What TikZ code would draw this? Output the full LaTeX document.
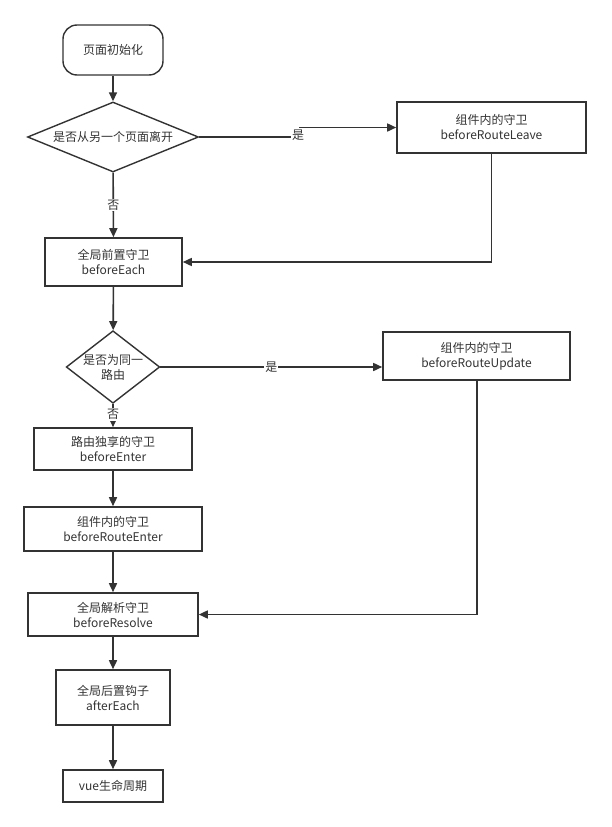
\documentclass[tikz,border=0pt]{standalone}
\usepackage{fontspec}
\setmainfont{Noto Sans CJK SC}
\usetikzlibrary{arrows.meta,shapes.geometric}
\definecolor{ink}{HTML}{333333}
\definecolor{txt}{HTML}{333333}
\begin{document}
\begin{tikzpicture}[x=1pt,y=-1pt,
  every node/.style={font=\fontsize{12}{15}\selectfont, text=txt, align=center, inner sep=0pt},
  box/.style={draw=ink, line width=1.6pt, rectangle, minimum width=#1},
  lbl/.style={fill=white, inner sep=1pt},
  conn/.style={draw=ink, line width=1.6pt, -{Triangle[length=9pt,width=8pt]}},
  plain/.style={draw=ink, line width=1.6pt}]
\useasboundingbox (0,0) rectangle (611,827);
% nodes
\node[draw=ink, line width=1.4pt, rounded corners=14pt, minimum width=100pt, minimum height=50pt] (start) at (113,50) {页面初始化};
\node[draw=ink, line width=1.4pt, shape=diamond, minimum width=171pt, minimum height=70pt, aspect=2.44] (d1) at (113,137) {是否从另一个页面离开};
\node[box=189pt, minimum height=51pt] (leave) at (491.5,127.5) {组件内的守卫\\beforeRouteLeave};
\node[box=137pt, minimum height=48pt] (each) at (113.5,262) {全局前置守卫\\beforeEach};
\node[draw=ink, line width=1.4pt, shape=diamond, minimum width=90pt, minimum height=70pt, aspect=1.29] (d2) at (113,367) {是否为同一\\路由};
\node[box=187pt, minimum height=48pt] (update) at (476.5,356) {组件内的守卫\\beforeRouteUpdate};
\node[box=158pt, minimum height=42pt] (enter) at (113,449) {路由独享的守卫\\beforeEnter};
\node[box=178pt, minimum height=44pt] (renter) at (113,529) {组件内的守卫\\beforeRouteEnter};
\node[box=170pt, minimum height=43pt] (resolve) at (113,614.5) {全局解析守卫\\beforeResolve};
\node[box=114pt, minimum height=55pt] (after) at (113,697.5) {全局后置钩子\\afterEach};
\node[box=100pt, minimum height=32pt] (vue) at (113,786) {vue生命周期};
% helper coordinates
\coordinate (j1) at (299,137);
\coordinate (j2) at (299,127.5);
\coordinate (c1) at (491.5,262);
\coordinate (c2) at (477,614.5);
% connectors
\draw[conn] (start) -- (d1);
\draw[conn] (d1) -- node[lbl, pos=0.5] {否} (each);
\draw[plain] (d1.east) -- (j1) -- (j2);
\draw[conn] (j2) -- (leave.west);
\node[lbl, inner sep=1.5pt] (yes1) at (298,135) {是};
\draw[conn] (leave.south) -- (c1) -- (each.east);
\draw[conn] (each) -- (d2);
\draw[conn] (d2.east) -- node[lbl, pos=0.5] {是} (update.west |- d2.east);
\draw[conn] (d2) -- node[lbl, pos=0.45] {否} (enter);
\draw[conn] (enter) -- (renter);
\draw[conn] (renter) -- (resolve);
\draw[conn] (update.south -| c2) -- (c2) -- (resolve.east);
\draw[conn] (resolve) -- (after);
\draw[conn] (after) -- (vue);
\end{tikzpicture}
\end{document}
